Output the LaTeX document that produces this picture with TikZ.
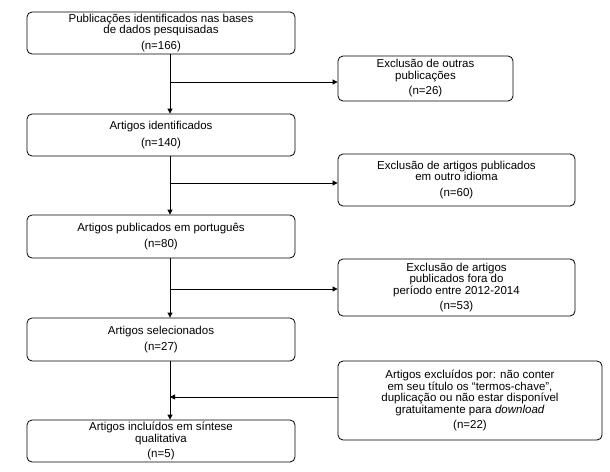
\documentclass[tikz,border=0pt]{standalone}
\usepackage{fontspec}
\setmainfont{Liberation Sans}
\usetikzlibrary{arrows.meta}
\begin{document}
\begin{tikzpicture}[x=1pt,y=-1pt,
  box/.style={draw, rounded corners=5pt, line width=0.8pt, align=center,
    font=\fontsize{11.5}{11.5}\selectfont, inner sep=1pt},
  flow/.style={-{Triangle[length=5pt,width=5pt]}, line width=0.8pt}]
  \useasboundingbox (0,0) rectangle (610,471);
  % main column
  \node[box, minimum width=268pt, minimum height=42pt] (P1) at (161,33)
    {Publicações identificados nas bases\\de dados pesquisadas\\[4pt](n=166)};
  \node[box, minimum width=268pt, minimum height=42pt] (P2) at (161,135)
    {Artigos identificados\\[5pt](n=140)};
  \node[box, minimum width=268pt, minimum height=43pt] (P3) at (161,236.5)
    {Artigos publicados em português\\[5pt](n=80)};
  \node[box, minimum width=268pt, minimum height=43pt] (P4) at (161,339.5)
    {Artigos selecionados\\[5pt](n=27)};
  \node[box, minimum width=268pt, minimum height=42pt] (P5) at (161,441)
    {Artigos incluídos em síntese\\qualitativa\\[4pt](n=5)};
  % exclusions
  \node[box, minimum width=175pt, minimum height=45pt] (E1) at (425.5,78.5)
    {Exclusão de outras\\publicações\\[4pt](n=26)};
  \node[box, minimum width=237pt, minimum height=52pt] (E2) at (456.5,180)
    {Exclusão de artigos publicados\\em outro idioma\\[4pt](n=60)};
  \node[box, minimum width=237pt, minimum height=57pt] (E3) at (456.5,287.5)
    {Exclusão de artigos\\publicados fora do\\período entre 2012-2014\\[4pt](n=53)};
  \node[box, minimum width=264pt, minimum height=79pt] (E4) at (470,400.5)
    {Artigos excluídos por: não conter\\em seu título os “termos-chave”,\\duplicação ou não estar disponível\\gratuitamente para \textit{download}\\[4pt](n=22)};
  % connectors
  \coordinate (B1) at (170,82);
  \coordinate (B2) at (170,183);
  \coordinate (B3) at (170,289);
  \coordinate (B4) at (170,397);
  \draw[flow] (P1.south -| B1) -- (P2.north -| B1);
  \draw[flow] (P2.south -| B1) -- (P3.north -| B1);
  \draw[flow] (P3.south -| B1) -- (P4.north -| B1);
  \draw[flow] (P4.south -| B1) -- (P5.north -| B1);
  \draw[flow] (B1) -- (B1 -| E1.west);
  \draw[flow] (B2) -- (B2 -| E2.west);
  \draw[flow] (B3) -- (B3 -| E3.west);
  \draw[flow] (B4 -| E4.west) -- (B4);
\end{tikzpicture}
\end{document}
